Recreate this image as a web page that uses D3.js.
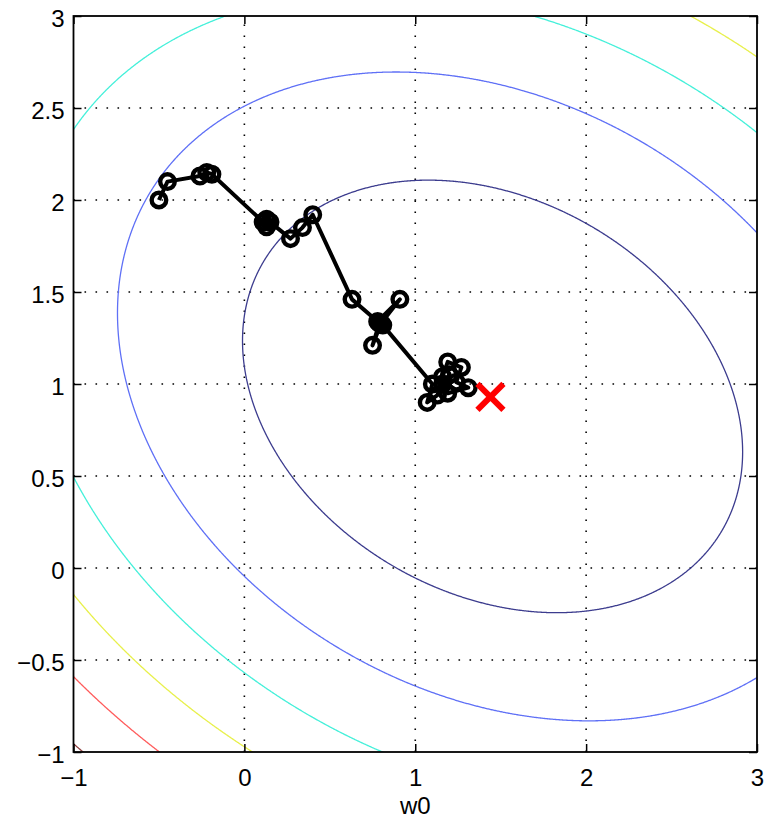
<!DOCTYPE html>
<html><head><meta charset="utf-8">
<script src="https://cdn.jsdelivr.net/npm/d3@7"></script>
<style>
body{margin:0;background:#fff}
svg{display:block}
</style>
</head><body><svg id="chart" width="767" height="825"></svg>
<script>
// ---- data ----
const xTicks = [-1, 0, 1, 2, 3];
const yTicks = [-1, -0.5, 0, 0.5, 1, 1.5, 2, 2.5, 3];
const xLabel = "w0";
// weight trajectory (w0, w1)
const pathW0 = [-0.50, -0.45, -0.26, -0.22, -0.19, 0.11, 0.15, 0.13, 0.13, 0.27, 0.34, 0.40, 0.63, 0.78, 0.91, 0.80, 0.75, 0.79, 0.81, 1.10, 1.07, 1.13, 1.16, 1.19, 1.27, 1.24, 1.31, 1.19, 1.16, 1.20];
const pathW1 = [2.00, 2.10, 2.13, 2.15, 2.14, 1.88, 1.88, 1.855, 1.895, 1.79, 1.85, 1.92, 1.46, 1.34, 1.46, 1.33, 1.21, 1.33, 1.32, 1.00, 0.90, 0.94, 1.04, 1.12, 1.09, 1.01, 0.98, 0.95, 1.00, 1.05];
const optimum = [1.44, 0.93];
// quadratic error surface: centre and (a, b, c) of a*dx^2 + 2b*dx*dy + c*dy^2
const bowlCenter = [1.45, 0.93];
const bowlQuad = [1, 0.32, 1.55];
const contourLevels = [2, 4.5, 7, 9.5, 12, 14.5];
const contourColors = ["#3c3c8e", "#5f70f6", "#45f0da", "#e8f04c", "#ff5c5c", "#8b3a3a"];

// ---- layout ----
const L = 73.5, R = 757, T = 16, B = 752;
const x = d3.scaleLinear().domain([-1, 3]).range([L, R]);
const y = d3.scaleLinear().domain([-1, 3]).range([B, T]);
const svg = d3.select("#chart");
const FONT = "'Liberation Sans', Arial, Helvetica, sans-serif";

svg.append("rect").attr("width", 767).attr("height", 825).attr("fill", "#fff");
svg.append("clipPath").attr("id", "plotclip").append("rect")
  .attr("x", L).attr("y", T).attr("width", R - L).attr("height", B - T);

// grid (dotted)
const grid = svg.append("g").attr("stroke", "#000").attr("stroke-width", 1.6)
  .attr("stroke-dasharray", "1.6 9.4");
grid.selectAll(".gx").data(xTicks.slice(1, -1)).join("line")
  .attr("x1", d => x(d)).attr("x2", d => x(d)).attr("y1", B).attr("y2", T);
grid.selectAll(".gy").data(yTicks.slice(1, -1)).join("line")
  .attr("y1", d => y(d)).attr("y2", d => y(d)).attr("x1", L).attr("x2", R);

// contours of the error surface
const step = 0.005, g0 = -1.3, g1 = 3.3;
const n = Math.round((g1 - g0) / step) + 1;
const vals = new Float64Array(n * n);
const [a, b, c] = bowlQuad;
for (let j = 0; j < n; j++) {
  const dy = g0 + j * step - bowlCenter[1];
  for (let i = 0; i < n; i++) {
    const dx = g0 + i * step - bowlCenter[0];
    vals[j * n + i] = a * dx * dx + 2 * b * dx * dy + c * dy * dy;
  }
}
const cont = d3.contours().size([n, n]).thresholds(contourLevels)(vals);
const proj = d3.geoTransform({
  point(px, py) { this.stream.point(x(g0 + px * step), y(g0 + py * step)); }
});
const gp = d3.geoPath(proj);
svg.append("g").attr("clip-path", "url(#plotclip)")
  .selectAll("path").data(cont).join("path")
  .attr("d", gp).attr("fill", "none")
  .attr("stroke", (d, i) => contourColors[i]).attr("stroke-width", 1.3);

// trajectory
const pts = pathW0.map((w, i) => [w, pathW1[i]]);
const traj = svg.append("g").attr("clip-path", "url(#plotclip)");
traj.append("path").datum(pts)
  .attr("d", d3.line().x(d => x(d[0])).y(d => y(d[1])))
  .attr("fill", "none").attr("stroke", "#000").attr("stroke-width", 4)
  .attr("stroke-linejoin", "round");
traj.selectAll("circle").data(pts).join("circle")
  .attr("cx", d => x(d[0])).attr("cy", d => y(d[1])).attr("r", 7.3)
  .attr("fill", "none").attr("stroke", "#000").attr("stroke-width", 4.4);

// optimum marker
const ox = x(optimum[0]), oy = y(optimum[1]), s = 13;
svg.append("path")
  .attr("d", `M${ox - s},${oy - s}L${ox + s},${oy + s}M${ox - s},${oy + s}L${ox + s},${oy - s}`)
  .attr("stroke", "#ff0000").attr("stroke-width", 6).attr("fill", "none");

// axes
const fmt = d3.format("");
function styleAxis(g) {
  g.select(".domain").remove();
  g.selectAll(".tick line").attr("stroke", "#000").attr("stroke-width", 1.5);
  g.selectAll("text").attr("font-family", FONT).attr("font-size", 24).attr("fill", "#000");
}
svg.append("g").attr("transform", `translate(0,${B})`)
  .call(d3.axisBottom(x).tickValues(xTicks).tickFormat(fmt).tickSize(-8).tickPadding(17))
  .call(styleAxis);
svg.append("g").attr("transform", `translate(${L},0)`)
  .call(d3.axisLeft(y).tickValues(yTicks).tickFormat(fmt).tickSize(-8).tickPadding(9))
  .call(styleAxis)
  .call(g => g.selectAll("text").attr("dy", "0.45em"));
svg.append("g").attr("transform", `translate(0,${T})`)
  .call(d3.axisTop(x).tickValues(xTicks).tickFormat("").tickSize(-8)).call(styleAxis);
svg.append("g").attr("transform", `translate(${R},0)`)
  .call(d3.axisRight(y).tickValues(yTicks).tickFormat("").tickSize(-8)).call(styleAxis);

// box
svg.append("rect").attr("x", L).attr("y", T).attr("width", R - L).attr("height", B - T)
  .attr("fill", "none").attr("stroke", "#000").attr("stroke-width", 1.8);

// x label
svg.append("text").attr("x", x(1)).attr("y", 814).attr("text-anchor", "middle")
  .attr("font-family", FONT).attr("font-size", 24).attr("fill", "#000").text(xLabel);
</script>
</body></html>
